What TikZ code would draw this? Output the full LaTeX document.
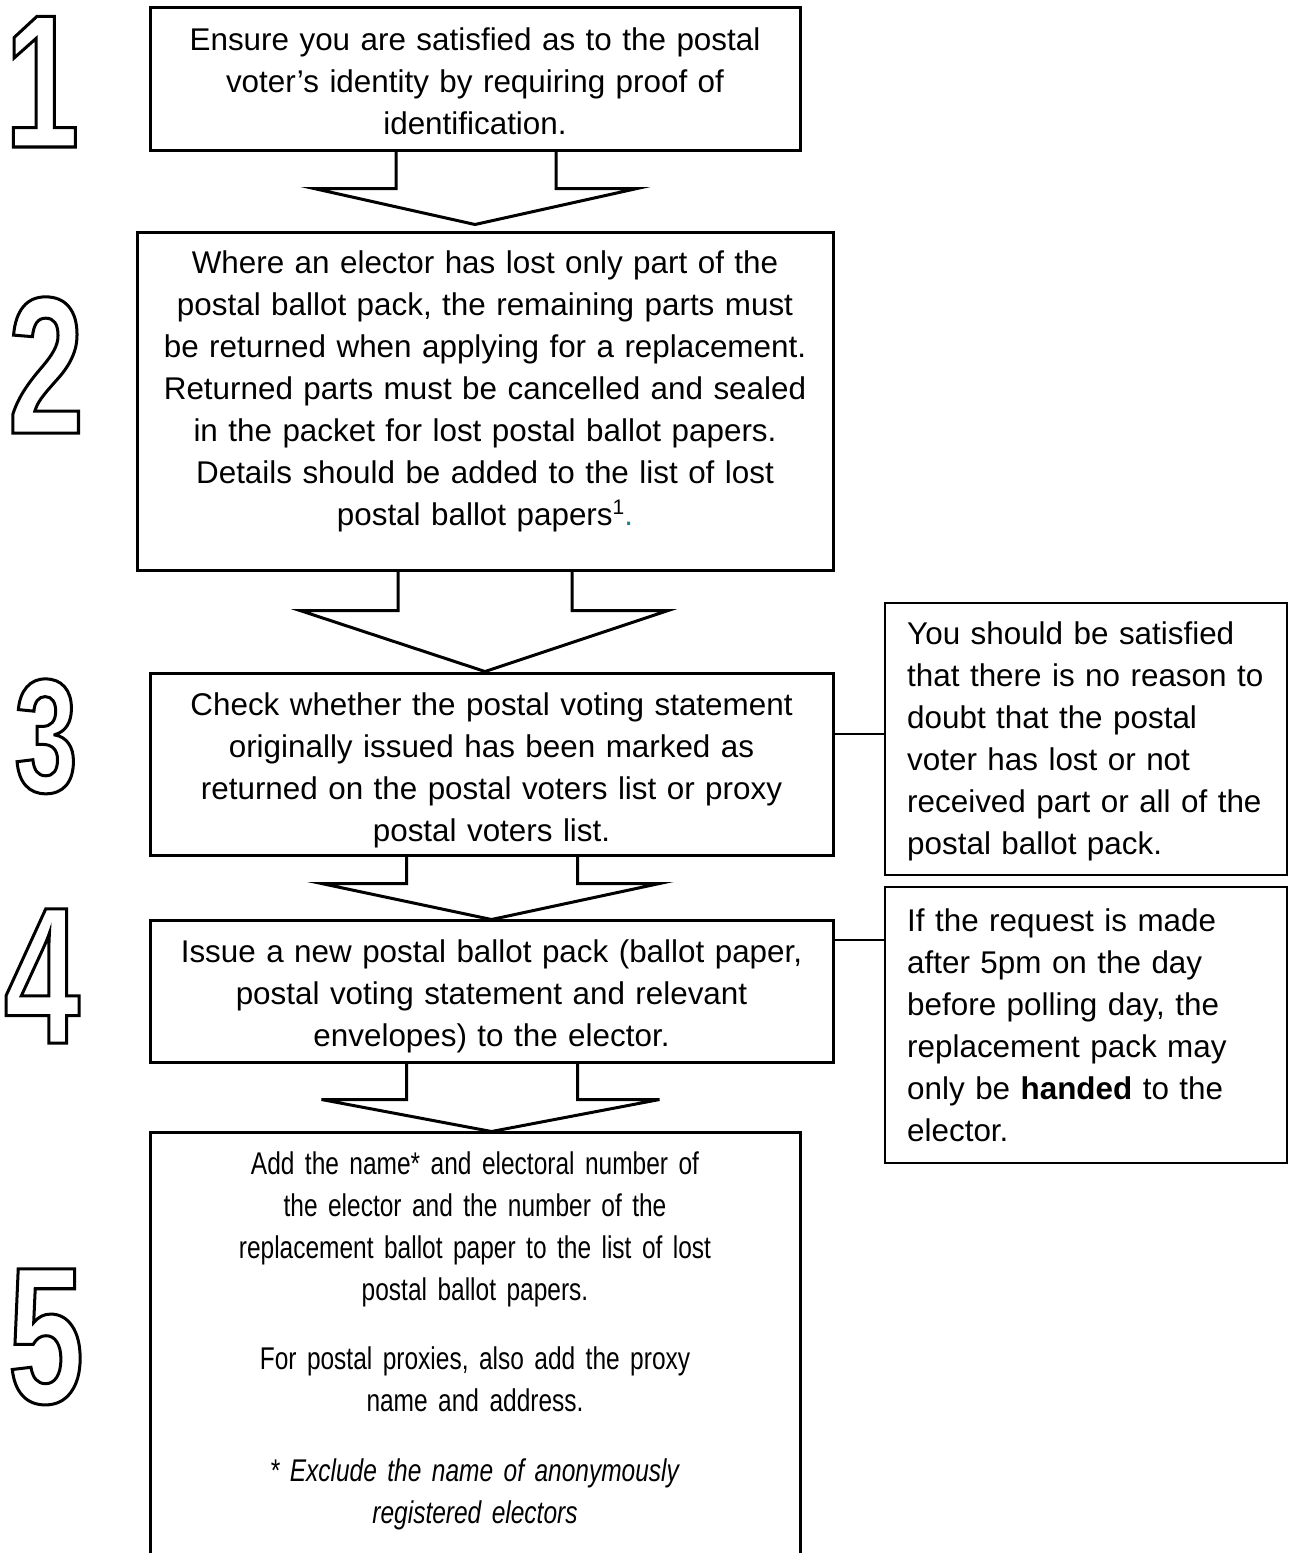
\documentclass[tikz,border=0pt]{standalone}
\usepackage{fontspec}
\setmainfont{Liberation Sans}
\newfontfamily\narrowfont[FakeStretch=0.78]{Liberation Sans}
\newfontfamily\digitfont[FakeStretch=0.7]{Liberation Sans}
\usetikzlibrary{calc}
\definecolor{footteal}{RGB}{30,130,130}
\newcommand\outlined[1]{\special{pdf:literal 1 Tr 3 w}#1\special{pdf:literal 0 Tr}}
\newcommand\fnmark[1]{\raisebox{11pt}{\fontsize{21}{21}\selectfont #1}}
\begin{document}
\begin{tikzpicture}[x=1pt,y=-1pt,
  mainbox/.style={draw, line width=3pt, inner sep=0pt, fill=none},
  sidebox/.style={draw, line width=2pt, inner sep=0pt},
  maintext/.style={anchor=base, align=center, inner sep=0pt, text width=700pt,
    font=\fontsize{31.4}{42}\selectfont},
  sidetext/.style={anchor=base west, align=left, inner sep=0pt, text width=385pt,
    font=\fontsize{31.4}{42}\selectfont},
  digit/.style={anchor=base, inner sep=0pt, font=\digitfont\bfseries\fontsize{195}{195}\selectfont},
  blockarrow/.style={draw, line width=3pt},
  conn/.style={draw, line width=1.2pt}]
\clip (0,0) rectangle (1288,1553);
\fill[white] (0,0) rectangle (1288,1553);

% main boxes
\node[mainbox, minimum width=650pt, minimum height=143pt] (b1) at (475,78.5) {};
\node[mainbox, minimum width=696pt, minimum height=338pt] (b2) at (485,401) {};
\node[mainbox, minimum width=683pt, minimum height=182pt] (b3) at (491.5,764) {};
\node[mainbox, minimum width=683pt, minimum height=142pt] (b4) at (491.5,991) {};
\node[mainbox, minimum width=650pt, minimum height=500pt] (b5) at (475,1382) {};

% side boxes
\node[sidebox, minimum width=402pt, minimum height=272pt] (s3) at (1086,739) {};
\node[sidebox, minimum width=402pt, minimum height=276pt] (s4) at (1086,1025) {};

% texts
\node[maintext] (t1) at (475,50.5) {Ensure you are satisfied as to the postal\\
voter’s identity by requiring proof of\\ identification.};
\node[maintext] (t2) at (485,273.5) {Where an elector has lost only part of the\\
postal ballot pack, the remaining parts must\\
be returned when applying for a replacement.\\
Returned parts must be cancelled and sealed\\
in the packet for lost postal ballot papers.\\
Details should be added to the list of lost\\
postal ballot papers\fnmark{1}{\color{footteal}.}};
\node[maintext] (t3) at (491.5,715.5) {Check whether the postal voting statement\\
originally issued has been marked as\\
returned on the postal voters list or proxy\\
postal voters list.};
\node[maintext] (t4) at (491.5,962.5) {Issue a new postal ballot pack (ballot paper,\\
postal voting statement and relevant\\
envelopes) to the elector.};
\node[maintext, font=\narrowfont\fontsize{31.4}{42}\selectfont] (t5) at (475,1174) {Add the name* and electoral number of\\
the elector and the number of the\\
replacement ballot paper to the list of lost\\
postal ballot papers.\\[27pt]
For postal proxies, also add the proxy\\
name and address.\\[28pt]
\textit{* Exclude the name of anonymously}\\
\textit{registered electors}};
\node[sidetext] (st3) at (907,644) {You should be satisfied\\
that there is no reason to\\
doubt that the postal\\
voter has lost or not\\
received part or all of the\\
postal ballot pack.};
\node[sidetext] (st4) at (907,931) {If the request is made\\
after 5pm on the day\\
before polling day, the\\
replacement pack may\\
only be \textbf{handed} to the\\
elector.};

% digits
\node[digit, font=\digitfont\bfseries\fontsize{190}{190}\selectfont] (n1) at (42,147) {\outlined{1}};
\node[digit] (n2) at (46,433) {\outlined{2}};
\node[digit, font=\digitfont\bfseries\fontsize{162}{162}\selectfont] (n3) at (46,792) {\outlined{3}};
\node[digit] (n4) at (42,1043) {\outlined{4}};
\node[digit] (n5) at (46,1403) {\outlined{5}};

% block arrows
\draw[blockarrow] ($(b1.south)+(-79,0)$) -- ++(0,37) -- ($(b1.south)+(-161,37)$)
  -- ($(b1.south)+(0,73)$) -- ($(b1.south)+(162,37)$) -- ($(b1.south)+(81,37)$) -- ($(b1.south)+(81,0)$);
\draw[blockarrow] ($(b2.south)+(-87,0)$) -- ++(0,39) -- ($(b2.south)+(-185,39)$)
  -- ($(b2.south)+(0,100)$) -- ($(b2.south)+(183,39)$) -- ($(b2.south)+(87,39)$) -- ($(b2.south)+(87,0)$);
\draw[blockarrow] ($(b3.south)+(-85,0)$) -- ++(0,27) -- ($(b3.south)+(-170,27)$)
  -- ($(b3.south)+(0,63)$) -- ($(b3.south)+(168,27)$) -- ($(b3.south)+(86,27)$) -- ($(b3.south)+(86,0)$);
\draw[blockarrow] ($(b4.south)+(-85,0)$) -- ++(0,36) -- ($(b4.south)+(-170,36)$)
  -- ($(b4.south)+(0,68)$) -- ($(b4.south)+(168,36)$) -- ($(b4.south)+(86,36)$) -- ($(b4.south)+(86,0)$);

% connectors
\coordinate (c3) at (860,734);
\coordinate (c4) at (860,940);
\draw[conn] (c3 -| b3.east) -- (c3 -| s3.west);
\draw[conn] (c4 -| b4.east) -- (c4 -| s4.west);
\end{tikzpicture}
\end{document}
